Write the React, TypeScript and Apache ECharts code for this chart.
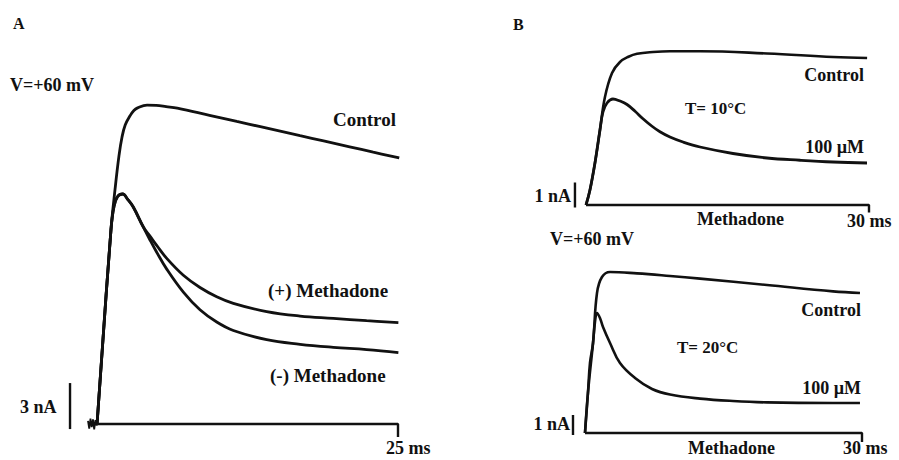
import React, { useEffect, useRef } from "react";
import * as echarts from "echarts";

type Pt = [number, number];

// ---------- Panel A (time in ms, current in nA) ----------
const aControl: Pt[] = [
  [0.73, 0], [1.85, 12.65], [2.18, 15.3], [2.5, 17.5], [2.74, 18.7], [3.0, 19.5],
  [3.39, 20.1], [3.7, 20.45], [4.0, 20.62], [4.76, 20.8], [5.5, 20.78], [6.3, 20.7], [7.2, 20.6],
  [9.8, 20.13], [12.0, 19.73], [13.9, 19.39], [17.1, 18.8], [19.0, 18.46], [21.1, 18.08],
  [23.0, 17.73], [25.1, 17.35],
];
const aMethadoneRise: Pt[] = [
  [0.73, 0], [1.85, 12.65], [2.1, 14.2], [2.4, 14.85], [2.8, 15.0], [3.2, 14.65],
  [3.65, 14.15], [4.46, 12.85],
];
const aPlusMethadone: Pt[] = [
  [5.0, 12.25], [5.54, 11.65], [6.35, 10.8], [7.69, 9.7], [9.03, 8.9], [10.38, 8.3],
  [11.72, 7.87], [14.41, 7.33], [17.1, 7.04], [19.78, 6.89], [22.47, 6.74], [25.03, 6.61],
];
const aMinusMethadone: Pt[] = [
  [5.0, 12.0], [5.54, 11.2], [6.35, 10.1], [7.69, 8.6], [9.03, 7.45], [10.38, 6.65],
  [11.72, 6.1], [14.41, 5.5], [17.1, 5.2], [19.78, 5.0], [22.47, 4.85], [25.03, 4.65],
];
const aNoise: Pt[] = [
  [0, 0.2], [0.1, -0.3], [0.2, 0.35], [0.3, -0.2], [0.4, 0.3], [0.5, -0.35], [0.6, 0.25], [0.7, -0.1], [0.75, 0],
];

// ---------- Panel B, T = 10 °C ----------
const b10Control: Pt[] = [
  [0, 0], [0.42, 0.6], [0.95, 1.68], [1.48, 3.0], [2.01, 4.32], [2.76, 5.28], [3.6, 5.72],
  [4.5, 5.93], [5.41, 6.05], [7.1, 6.12], [8.9, 6.15], [12.09, 6.15], [19.19, 6.06],
  [26.2, 5.92], [29.8, 5.88],
];
const b10Methadone: Pt[] = [
  [0, 0], [0.42, 0.6], [0.95, 1.68], [1.48, 3.0], [1.8, 3.72], [2.23, 4.08], [2.86, 4.24],
  [3.6, 4.16], [4.35, 4.02], [5.2, 3.75], [6.04, 3.45], [7.0, 3.15], [7.84, 2.93], [8.9, 2.72],
  [10.28, 2.52], [12.09, 2.32], [15.58, 2.06], [19.19, 1.88], [22.69, 1.79], [26.19, 1.72],
  [29.79, 1.68],
];

// ---------- Panel B, T = 20 °C ----------
const b20Control: Pt[] = [
  [0, 0], [0.32, 2.0], [0.54, 3.5], [0.87, 4.5], [1.3, 7.0], [1.84, 7.8], [2.71, 8.05],
  [5.63, 7.98], [9.21, 7.85], [12.46, 7.72], [19.71, 7.4], [26.86, 7.08], [29.78, 7.0],
];
const b20Methadone: Pt[] = [
  [0, 0], [0.32, 2.0], [0.87, 4.5], [1.08, 5.55], [1.3, 6.0], [1.62, 5.75], [1.95, 5.3],
  [2.71, 4.5], [3.79, 3.5], [5.42, 2.75], [7.26, 2.2], [9.21, 1.92], [12.46, 1.72],
  [16.03, 1.6], [19.71, 1.53], [26.86, 1.5], [29.78, 1.5],
];

// ---------- scale bars ----------
const timeBars = [25, 30, 30]; // ms
const currentBars = [3, 1, 1]; // nA

const FONT = '"Liberation Serif", "Times New Roman", serif';

function txt(text: string, x: number, y: number, align: string = "left", size: number = 18) {
  return {
    type: "text",
    x,
    y,
    silent: true,
    style: {
      text,
      fill: "#111",
      font: `bold ${size}px ${FONT}`,
      align,
      verticalAlign: "middle",
    },
  };
}

function line(data: Pt[], grid: number, width: number = 2.6, smooth: number | boolean = 0.4) {
  return {
    type: "line",
    xAxisIndex: grid,
    yAxisIndex: grid,
    data,
    showSymbol: false,
    symbol: "none",
    smooth,
    lineStyle: { color: "#111", width },
    silent: true,
    clip: false,
  };
}

export default function App() {
  const ref = useRef<HTMLDivElement>(null);
  useEffect(() => {
    if (!ref.current) return;
    const chart = echarts.init(ref.current, undefined, { renderer: "svg" });
    const hidden = { show: false };
    const xA = { type: "value", min: -2, max: 26, ...hidden };
    const xB = { type: "value", min: -2, max: 31, ...hidden };
    const option: any = {
      animation: false,
      backgroundColor: "#fff",
      grid: [
        { left: 63.2, top: 86.67, width: 347.2, height: 368 },
        { left: 567.13, top: 25, width: 311.3, height: 205 },
        { left: 566.53, top: 263, width: 304.7, height: 190 },
      ],
      xAxis: [
        { ...xA, gridIndex: 0 },
        { ...xB, gridIndex: 1 },
        { ...xB, gridIndex: 2 },
      ],
      yAxis: [
        { type: "value", min: -2, max: 22, gridIndex: 0, show: false },
        { type: "value", min: -1, max: 7.2, gridIndex: 1, show: false },
        { type: "value", min: -1, max: 8.5, gridIndex: 2, show: false },
      ],
      series: [
        // Panel A
        line(aControl, 0, 2.8),
        line([...aMethadoneRise, ...aPlusMethadone], 0, 2.8),
        line([...aMethadoneRise, ...aMinusMethadone], 0, 2.8),
        line(aNoise, 0, 1.8, false),
        line([[0.75, 0], [timeBars[0], 0], [timeBars[0], -0.85]], 0, 2.4, false),
        line([[-1.45, -0.33], [-1.45, -0.33 + currentBars[0]]], 0, 2.4, false),
        // Panel B 10 °C
        line(b10Control, 1, 2.6),
        line(b10Methadone, 1, 2.8),
        line([[0, 0], [timeBars[1], 0], [timeBars[1], -0.3]], 1, 2.4, false),
        line([[-1.17, -0.1], [-1.17, -0.1 + currentBars[1]]], 1, 2.4, false),
        // Panel B 20 °C
        line(b20Control, 2, 2.6),
        line(b20Methadone, 2, 2.6),
        line([[0, 0], [timeBars[2], 0], [timeBars[2], -0.45]], 2, 2.4, false),
        line([[-1.3, -0.1], [-1.3, -0.1 + currentBars[2]]], 2, 2.4, false),
      ],
      graphic: [
        txt("A", 13, 23, "left", 16),
        txt("V=+60 mV", 10, 85),
        txt("Control", 333, 119, "left", 19),
        txt("(+) Methadone", 268, 290, "left", 19),
        txt("(-) Methadone", 270, 375, "left", 19),
        txt(`${currentBars[0]} nA`, 20, 407),
        txt(`${timeBars[0]} ms`, 386, 448),
        txt("B", 513, 24, "left", 16),
        txt("Control", 864, 75, "right"),
        txt("T= 10°C", 685, 108, "left", 17),
        txt("100 µM", 864, 147, "right"),
        txt(`${currentBars[1]} nA`, 571, 196, "right"),
        txt("Methadone", 697, 219),
        txt(`${timeBars[1]} ms`, 847, 221),
        txt("V=+60 mV", 550, 239),
        txt("Control", 861, 310, "right"),
        txt("T= 20°C", 677, 347, "left", 17),
        txt("100 µM", 861, 388, "right"),
        txt(`${currentBars[2]} nA`, 570, 424, "right"),
        txt("Methadone", 688, 448),
        txt(`${timeBars[2]} ms`, 843, 448),
      ],
    };
    chart.setOption(option);
    return () => chart.dispose();
  }, []);
  return (
    <div
      ref={ref}
      style={{ position: "fixed", left: 0, top: 0, width: 899, height: 460, background: "#fff" }}
    />
  );
}
